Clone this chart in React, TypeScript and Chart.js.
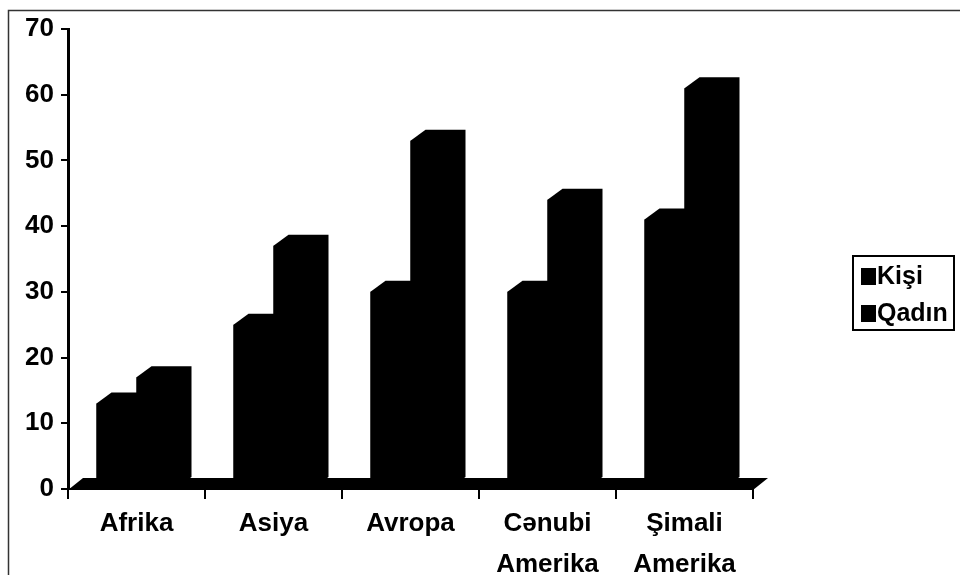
import React, { useEffect, useRef } from "react";
import { Chart, registerables } from "chart.js";

Chart.register(...registerables);

// ---- data ----
const categories: (string | string[])[] = [
  "Afrika",
  "Asiya",
  "Avropa",
  ["Cənubi", "Amerika"],
  ["Şimali", "Amerika"],
];
const kisiValues = [13, 25, 30, 30, 41];
const qadinValues = [17, 37, 53, 44, 61];
const seriesNames = ["Kişi", "Qadın"];
const yMin = 0;
const yMax = 70;
const yStep = 10;

// ---- style ----
const FONT = '"Liberation Sans", Arial, sans-serif';
const INK = "#000000";
const DEPTH_X = 15;
const DEPTH_Y = 11;

const pseudo3d = {
  id: "pseudo3d",
  beforeDraw(chart: any) {
    const ctx = chart.ctx;
    ctx.save();
    ctx.fillStyle = "#ffffff";
    ctx.fillRect(0, 0, chart.width, chart.height);
    ctx.strokeStyle = "#333333";
    ctx.lineWidth = 1.5;
    ctx.strokeRect(8.5, 10.5, chart.width + 20, chart.height + 20);
    ctx.restore();
  },
  beforeDatasetsDraw(chart: any) {
    const { ctx, chartArea } = chart;
    const L = chartArea.left;
    const R = chartArea.right;
    const B = chartArea.bottom;
    ctx.save();
    ctx.fillStyle = INK;
    ctx.beginPath();
    ctx.moveTo(L, B + 1);
    ctx.lineTo(L + DEPTH_X, B - DEPTH_Y);
    ctx.lineTo(R + DEPTH_X, B - DEPTH_Y);
    ctx.lineTo(R, B + 1);
    ctx.closePath();
    ctx.fill();
    ctx.restore();
  },
  afterDatasetsDraw(chart: any) {
    const ctx = chart.ctx;
    ctx.save();
    ctx.fillStyle = INK;
    chart.data.datasets.forEach((_: any, i: number) => {
      const meta = chart.getDatasetMeta(i);
      meta.data.forEach((bar: any) => {
        const p = bar.getProps(["x", "y", "base", "width"], true);
        const left = p.x - p.width / 2;
        const right = p.x + p.width / 2;
        ctx.beginPath();
        ctx.moveTo(left, p.base);
        ctx.lineTo(left, p.y);
        ctx.lineTo(left + DEPTH_X, p.y - DEPTH_Y);
        ctx.lineTo(right + DEPTH_X, p.y - DEPTH_Y);
        ctx.lineTo(right + DEPTH_X, p.base - DEPTH_Y);
        ctx.lineTo(right, p.base);
        ctx.closePath();
        ctx.fill();
      });
    });
    ctx.restore();
  },
  afterDraw(chart: any) {
    const ctx = chart.ctx;
    ctx.save();
    ctx.strokeStyle = INK;
    ctx.lineWidth = 2;
    ctx.strokeRect(853, 256, 101, 74);
    ctx.font = `bold 25px ${FONT}`;
    ctx.textBaseline = "middle";
    ctx.textAlign = "left";
    chart.data.datasets.forEach((ds: any, i: number) => {
      const cy = 276 + i * 37;
      ctx.fillStyle = ds.backgroundColor;
      ctx.fillRect(861, cy - 8, 15, 17);
      ctx.fillStyle = INK;
      ctx.fillText(ds.label, 877, cy + 1);
    });
    ctx.restore();
  },
};

export default function App() {
  const canvasRef = useRef<HTMLCanvasElement | null>(null);

  useEffect(() => {
    if (!canvasRef.current) return;
    const chart = new Chart(canvasRef.current, {
      type: "bar",
      data: {
        labels: categories as any,
        datasets: [
          {
            label: seriesNames[0],
            data: kisiValues,
            backgroundColor: INK,
            borderWidth: 0,
          },
          {
            label: seriesNames[1],
            data: qadinValues,
            backgroundColor: INK,
            borderWidth: 0,
          },
        ],
      },
      options: {
        responsive: false,
        animation: false,
        devicePixelRatio: 1,
        layout: { padding: { top: 29, right: 207, left: 0, bottom: 0 } },
        plugins: {
          legend: { display: false },
          tooltip: { enabled: false },
        },
        datasets: {
          bar: { categoryPercentage: 80 / 137, barPercentage: 1 },
        },
        scales: {
          x: {
            type: "category",
            offset: true,
            grid: {
              display: true,
              drawOnChartArea: false,
              drawTicks: true,
              tickLength: 10,
              color: INK,
              lineWidth: 2,
              offset: true,
            },
            border: { display: true, color: INK, width: 2 },
            ticks: {
              color: INK,
              autoSkip: false,
              maxRotation: 0,
              padding: 5,
              font: { family: FONT, size: 26, weight: "bold", lineHeight: 1.55 },
            },
            afterFit(scale: any) {
              scale.height = 86;
            },
          },
          y: {
            min: yMin,
            max: yMax,
            ticks: {
              stepSize: yStep,
              color: INK,
              padding: 7,
              font: { family: FONT, size: 26, weight: "bold" },
            },
            grid: {
              display: true,
              drawOnChartArea: false,
              drawTicks: true,
              tickLength: 7,
              color: INK,
              lineWidth: 2,
            },
            border: { display: true, color: INK, width: 3 },
            afterFit(scale: any) {
              scale.width = 68;
            },
          },
        },
      },
      plugins: [pseudo3d],
    });
    return () => chart.destroy();
  }, []);

  return (
    <div style={{ position: "fixed", left: 0, top: 0, width: 960, height: 575, background: "#fff" }}>
      <canvas ref={canvasRef} width={960} height={575} style={{ display: "block" }} />
    </div>
  );
}
